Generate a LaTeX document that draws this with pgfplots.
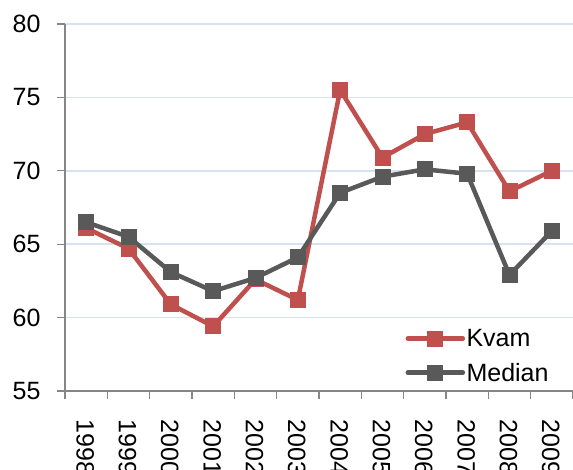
\documentclass[border=0pt]{standalone}
\usepackage{pgfplots}
\pgfplotsset{compat=1.18}
\usepackage{fontspec}
\setmainfont{Liberation Sans}
\definecolor{kvam}{HTML}{C0504D}
\definecolor{med}{HTML}{595959}
\definecolor{axgray}{HTML}{868686}
\definecolor{gridblue}{HTML}{D6E2F0}
\begin{document}
\begin{tikzpicture}
\begin{axis}[
  name=ax,
  scale only axis,
  width=508pt, height=367pt,
  xmin=-0.5, xmax=11.5,
  ymin=55, ymax=80,
  ytick={55,60,...,80},
  xtick={0,...,11},
  xticklabels={1998,1999,2000,2001,2002,2003,2004,2005,2006,2007,2008,2009},
  minor xtick={-0.5,0.5,...,11.5},
  major x tick style={draw=none},
  axis x line=bottom, axis y line=left,
  axis line style={draw=axgray, line width=1.2pt, -},
  tick style={draw=axgray, line width=1.2pt},
  tick align=outside,
  major tick length=8pt, minor tick length=8pt,
  ymajorgrids,
  major grid style={draw=gridblue, line width=1.5pt},
  /pgf/number format/assume math mode=true,
  ticklabel style={font=\fontsize{25}{29}\selectfont},
  yticklabel style={xshift=-13pt},
  xticklabel style={yshift=-17pt, xshift=-1pt, rotate=-90, anchor=west},
  legend style={at={(0.67,0.173)}, anchor=north west, draw=none, fill=none,
    font=\fontsize{25}{29}\selectfont, row sep=12pt,
    inner sep=0pt, nodes={inner sep=1.5pt}},
  legend cell align=left,
  legend image code/.code={\draw[mark repeat=2,mark phase=2,line cap=round,#1] plot coordinates {(0pt,0pt) (27.5pt,0pt) (55pt,0pt)};},
  clip=false,
]
\addplot[kvam, line width=4.5pt, mark=square*, mark size=7.5pt, mark options={solid, line width=0pt}] coordinates {
(0,66.1) (1,64.7) (2,60.9) (3,59.4) (4,62.6) (5,61.2) (6,75.5) (7,70.9) (8,72.5) (9,73.3) (10,68.6) (11,70.0)};
\addlegendentry{Kvam}
\addplot[med, line width=4.5pt, mark=square*, mark size=7.5pt, mark options={solid, line width=0pt}] coordinates {
(0,66.5) (1,65.5) (2,63.1) (3,61.8) (4,62.7) (5,64.1) (6,68.5) (7,69.6) (8,70.1) (9,69.8) (10,62.9) (11,65.9)};
\addlegendentry{Median}
\end{axis}
\pgfresetboundingbox
\path[use as bounding box] ([xshift=-65pt,yshift=-79pt]ax.south west) rectangle ([yshift=24pt]ax.north east);
\end{tikzpicture}
\end{document}
